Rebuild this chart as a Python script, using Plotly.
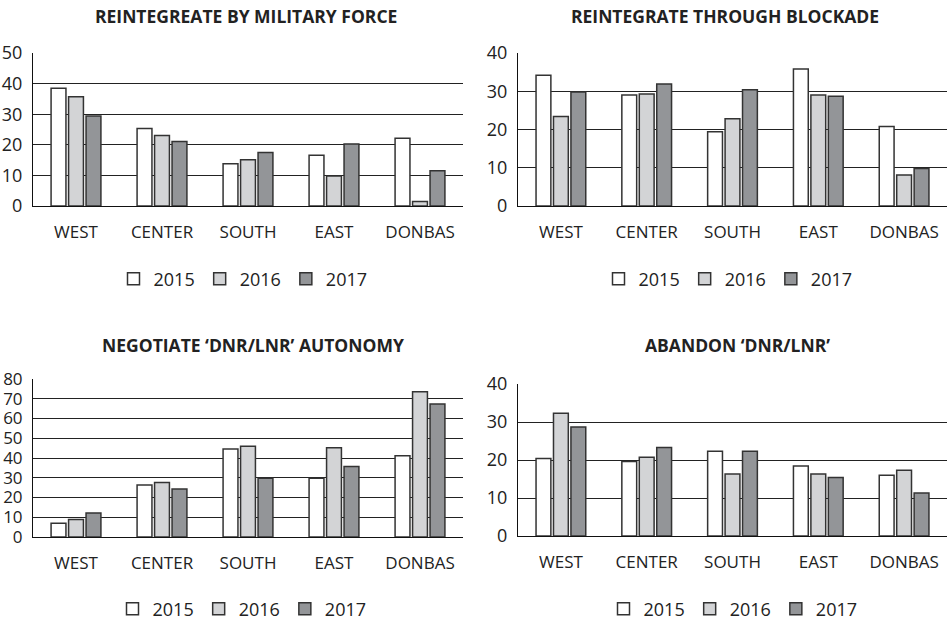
import plotly.graph_objects as go

regions = ["WEST", "CENTER", "SOUTH", "EAST", "DONBAS"]
years = ["2015", "2016", "2017"]

titles = [
    "REINTEGREATE BY MILITARY FORCE",
    "REINTEGRATE THROUGH BLOCKADE",
    "NEGOTIATE \u2018DNR/LNR\u2019 AUTONOMY",
    "ABANDON \u2018DNR/LNR\u2019",
]

military_2015 = [38.5, 25.3, 13.8, 16.6, 22.1]
military_2016 = [35.7, 23.0, 15.1, 9.8, 1.5]
military_2017 = [29.4, 21.1, 17.5, 20.3, 11.5]

blockade_2015 = [34.2, 29.0, 19.4, 35.8, 20.8]
blockade_2016 = [23.4, 29.3, 22.8, 29.0, 8.1]
blockade_2017 = [29.8, 31.9, 30.4, 28.7, 9.8]

autonomy_2015 = [6.9, 26.3, 44.6, 29.7, 41.2]
autonomy_2016 = [8.8, 27.6, 45.9, 45.2, 73.6]
autonomy_2017 = [12.2, 24.3, 29.7, 35.7, 67.3]

abandon_2015 = [20.4, 19.6, 22.3, 18.4, 16.0]
abandon_2016 = [32.3, 20.7, 16.3, 16.3, 17.3]
abandon_2017 = [28.7, 23.3, 22.3, 15.4, 11.3]

y_max = [50, 40, 80, 40]

panels = [
    [military_2015, military_2016, military_2017],
    [blockade_2015, blockade_2016, blockade_2017],
    [autonomy_2015, autonomy_2016, autonomy_2017],
    [abandon_2015, abandon_2016, abandon_2017],
]

fills = ["#ffffff", "#d3d4d6", "#939598"]
outline = "#333333"
text_color = "#222222"
FONT = "Open Sans, Noto Sans, sans-serif"

W, H = 951, 622
# plot areas in pixels: (left, right, top, bottom)
boxes = [
    (33, 463, 53, 206),
    (518, 947, 53, 206),
    (33, 463, 379, 537),
    (518, 947, 384, 536),
]
title_pos = [(246, 15.5), (725, 15.5), (253, 345.5), (737, 345.5)]
legend_pos = [(243, 279), (728, 279), (242, 609), (733, 609)]

fig = go.Figure()
legend_names = ["legend", "legend2", "legend3", "legend4"]

for p, series in enumerate(panels):
    sfx = "" if p == 0 else str(p + 1)
    for k, vals in enumerate(series):
        fig.add_trace(go.Bar(
            x=regions, y=vals, name=years[k],
            xaxis="x" + sfx, yaxis="y" + sfx,
            marker=dict(color=fills[k], line=dict(color=outline, width=1.5)),
            legend=legend_names[p],
            showlegend=True,
            hoverinfo="x+y+name",
        ))

layout = dict(
    template="none",
    width=W, height=H, autosize=False,
    margin=dict(l=0, r=0, t=0, b=0, pad=0, autoexpand=False),
    paper_bgcolor="white", plot_bgcolor="white",
    barmode="group", bargap=0.39, bargroupgap=0.15,
    font=dict(family=FONT, size=17, color=text_color),
    annotations=[],
)

for p, (l, r, t, b) in enumerate(boxes):
    sfx = "" if p == 0 else str(p + 1)
    layout["xaxis" + sfx] = dict(
        domain=[l / W, r / W], anchor="y" + sfx,
        showline=True, linecolor="#111111", linewidth=1,
        showgrid=False, ticks="", ticklabelstandoff=11,
        tickfont=dict(family=FONT, size=17, color=text_color),
        fixedrange=True, automargin=False,
    )
    layout["yaxis" + sfx] = dict(
        domain=[1 - b / H, 1 - t / H], anchor="x" + sfx,
        range=[0, y_max[p]], dtick=10, tick0=0,
        showline=True, linecolor="#111111", linewidth=1,
        showgrid=True, gridcolor="#222222", gridwidth=1,
        zeroline=False, ticks="", ticklabelstandoff=6,
        tickfont=dict(family=FONT, size=18 if p != 2 else 17, color=text_color),
        fixedrange=True, automargin=False,
    )
    tx, ty = title_pos[p]
    layout["annotations"].append(dict(
        text="<b>" + titles[p] + "</b>", x=tx / W, y=1 - ty / H,
        xref="paper", yref="paper", xanchor="center", yanchor="middle",
        showarrow=False, font=dict(family=FONT, size=17.5, color=text_color),
    ))
    lx, ly = legend_pos[p]
    layout[legend_names[p]] = dict(
        orientation="h", x=lx / W, y=1 - ly / H,
        xanchor="center", yanchor="middle",
        xref="paper", yref="paper",
        font=dict(family=FONT, size=18, color=text_color),
        bgcolor="rgba(0,0,0,0)", itemclick=False, itemdoubleclick=False,
        traceorder="normal",
    )

fig.update_layout(**layout)
fig.write_html(
    "out.html",
    config={"displayModeBar": False},
    post_script="document.body.style.margin='0';document.body.style.padding='0';"
                "document.documentElement.style.overflow='hidden';",
)
